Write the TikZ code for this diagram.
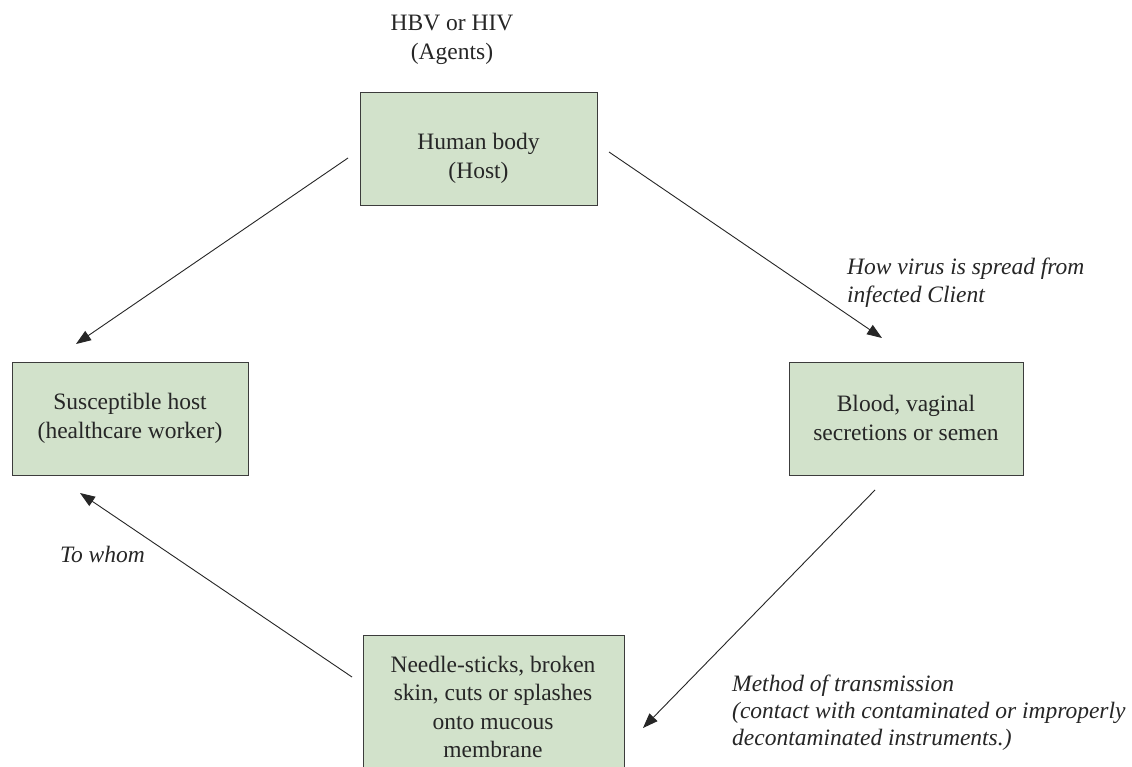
\documentclass[tikz,border=0pt]{standalone}
\usepackage{fontspec}
\setmainfont{Liberation Serif}
\usetikzlibrary{arrows.meta}
\definecolor{boxgreen}{RGB}{210,226,203}
\definecolor{boxline}{RGB}{60,60,60}
\begin{document}
\begin{tikzpicture}[x=1pt,y=-1pt,
  greenbox/.style={draw=boxline,fill=boxgreen,line width=1.2pt,inner sep=0pt,anchor=north west},
  txt/.style={font=\fontsize{23.5}{28.5}\selectfont,text=black!85,inner sep=0pt,align=center},
  itxt/.style={font=\fontsize{23.5}{28}\selectfont\itshape,text=black!85,inner sep=0pt,align=left},
  flow/.style={line width=0.9pt,draw=black!85,-{Triangle[length=15pt,width=11pt]}}]
\useasboundingbox (0,0) rectangle (1132,767);
\clip (0,0) rectangle (1132,767);
\fill[white] (0,0) rectangle (1132,767);
% boxes
\node[greenbox,minimum width=237pt,minimum height=113pt] (host) at (360,92) {};
\node[greenbox,minimum width=236pt,minimum height=113pt] (susc) at (12,362) {};
\node[greenbox,minimum width=234pt,minimum height=113pt] (blood) at (789,362) {};
\node[greenbox,minimum width=261pt,minimum height=160pt] (needle) at (363,635) {};
% box texts
\node[txt] (hosttxt) at (478.5,158.5) {Human body\\(Host)};
\node[txt] (susctxt) at (130,418.5) {Susceptible host\\(healthcare worker)};
\node[txt] (bloodtxt) at (906,418) {Blood, vaginal\\secretions or semen};
\node[txt] (needletxt) at (493,707) {Needle-sticks, broken\\skin, cuts or splashes\\onto mucous\\membrane};
% labels
\node[txt] (agents) at (452,40) {HBV or HIV\\(Agents)};
\node[itxt,anchor=west] (howlbl) at (847,283) {How virus is spread from\\infected Client};
\node[itxt,anchor=base west] (whomlbl) at (60,562) {To whom};
\node[itxt,anchor=west,font=\fontsize{23.5}{26.7}\selectfont\itshape] (methodlbl) at (732,712.6) {Method of transmission\\(contact with contaminated or improperly\\decontaminated instruments.)};
% connector ends
\coordinate (a1s) at (348,158); \coordinate (a1e) at (76,344);
\coordinate (a2s) at (609,152); \coordinate (a2e) at (882,338);
\coordinate (a3s) at (875,490); \coordinate (a3e) at (643,728);
\coordinate (a4s) at (352,677); \coordinate (a4e) at (80,493);
\draw[flow] (a1s) -- (a1e);
\draw[flow] (a2s) -- (a2e);
\draw[flow] (a3s) -- (a3e);
\draw[flow] (a4s) -- (a4e);
\end{tikzpicture}
\end{document}
